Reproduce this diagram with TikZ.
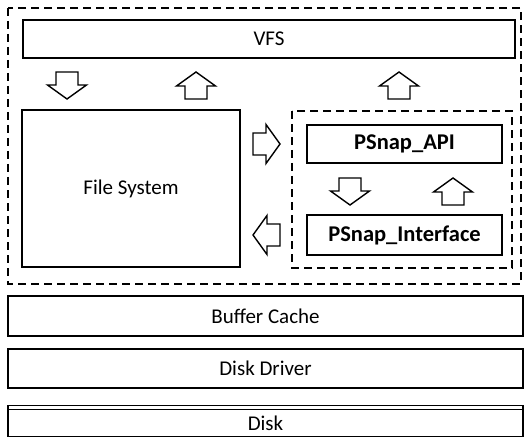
\documentclass[tikz,border=0pt]{standalone}
\usepackage{fontspec}
\setmainfont{Carlito}
\begin{document}
\begin{tikzpicture}[x=1pt,y=-1pt,
  box/.style={draw=black,line width=1.4pt,inner sep=0pt,font=\fontsize{21}{24}\selectfont},
  boldbox/.style={box,font=\fontsize{22.5}{26}\selectfont\bfseries},
  dashbox/.style={draw=black,line width=1.3pt,dash pattern=on 8pt off 5pt},
  barrow/.pic={\draw[line width=1.4pt,line join=miter,fill=white]
     (0,-11) -- (13,-11) -- (13,-19.5) -- (27,0) -- (13,19.5) -- (13,11) -- (0,11) -- cycle;}
]
\useasboundingbox (0,0) rectangle (526,438);
% outer dashed frame
\draw[dashbox] (8,8) rectangle (521,284);
% VFS
\node[box,minimum width=492pt,minimum height=38pt] (vfs) at (269,39) {VFS};
% File system
\node[box,minimum width=218pt,minimum height=157pt] (fs) at (131,188.5) {File System};
% inner dashed frame
\draw[dashbox] (292,111) rectangle (512,268);
\node[boldbox,minimum width=195pt,minimum height=38pt] (api) at (404.5,144) {PSnap\_API};
\node[boldbox,minimum width=195pt,minimum height=40pt] (intf) at (404.5,235) {PSnap\_Interface};
% block arrows
\pic[rotate=-90] at (67,72) {barrow};
\pic[rotate=90] at (196,99) {barrow};
\pic[rotate=90] at (399,99) {barrow};
\pic at (253,144) {barrow};
\pic[rotate=180] at (280,235) {barrow};
\pic[rotate=-90] at (350,178) {barrow};
\pic[rotate=90] at (453,205) {barrow};
% lower layers
\node[box,minimum width=515pt,minimum height=40pt] (buf) at (265.5,316) {Buffer Cache};
\node[box,minimum width=515pt,minimum height=39pt] (drv) at (265.5,368.5) {Disk Driver};
\node[box,minimum width=515pt,minimum height=31pt,text depth=0pt] (disk) at (265.5,421) {\raisebox{-4pt}{Disk}};
\draw[line width=1.4pt] ([yshift=-4.5pt]disk.north west) -- ([yshift=-4.5pt]disk.north east);
\end{tikzpicture}
\end{document}
